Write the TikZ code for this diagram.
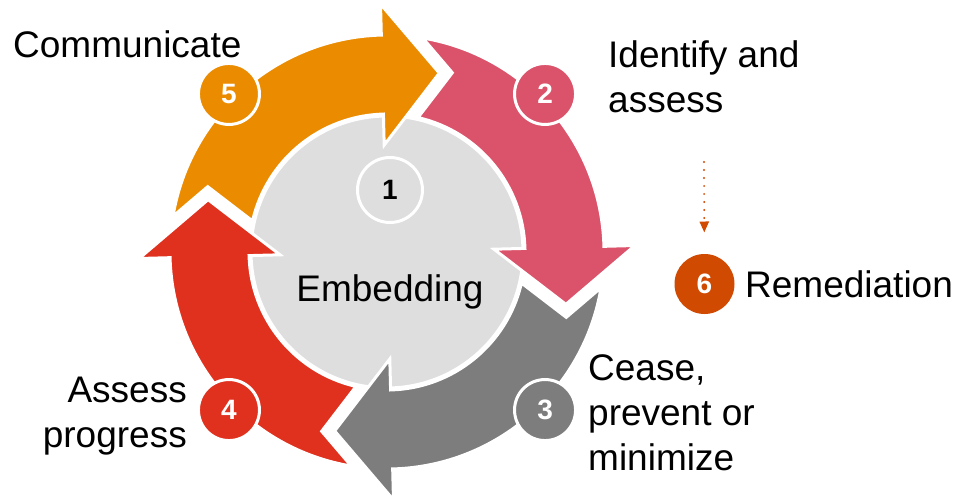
\documentclass[tikz,border=0pt]{standalone}
\usepackage{fontspec}
\setmainfont{Liberation Sans}
\usetikzlibrary{arrows.meta}
\definecolor{cycOrange}{HTML}{EB8C00}
\definecolor{cycPink}{HTML}{DB536A}
\definecolor{cycGrey}{HTML}{7D7D7D}
\definecolor{cycRed}{HTML}{E0301E}
\definecolor{cycRust}{HTML}{D04A02}
\definecolor{coreGrey}{HTML}{DEDEDE}

\begin{document}
\begin{tikzpicture}[x=1pt,y=1pt,
  % one quarter of the cycle: notched tail at the top, head pointing
  % clockwise with its base on the positive x axis
  ringarrow/.pic={
    \filldraw[fill=#1, draw=white, line width=3pt]
      (34.52,133.61) -- (70,177.5) -- (41.27,213.04)
      arc[start angle=79.04, end angle=0, radius=217pt]
      -- (248,0) -- (177.5,-57) -- (107,0) -- (138,0)
      arc[start angle=0, end angle=75.5, radius=138pt] -- cycle;
  },
  badge/.style={circle, draw=white, line width=3pt, minimum size=61pt,
    inner sep=0pt, text=white, font=\bfseries\fontsize{28}{28}\selectfont},
  cyctext/.style={inner sep=0pt, font=\fontsize{37}{45}\selectfont},
  dotflow/.style={draw=cycRust, line width=2.2pt, dash pattern=on 0pt off 8pt,
    line cap=round, -{Triangle[width=9pt,length=11pt]}},
]
\useasboundingbox (-387,-249) rectangle (570,252);

% central disc
\node[circle, fill=coreGrey, draw=white, line width=3pt, minimum size=272pt,
  inner sep=0pt] (core) at (0,0) {};

% the four ring arrows
\pic (aPink)   [rotate=1.5]   {ringarrow=cycPink};
\pic (aOrange) [rotate=91.5]  {ringarrow=cycOrange};
\pic (aRed)    [rotate=181.5] {ringarrow=cycRed};
\pic (aGrey)   [rotate=271.5] {ringarrow=cycGrey};

% step numbers
\node[circle, draw=white, line width=3pt, minimum size=65pt, inner sep=0pt,
  font=\bfseries\fontsize{28}{28}\selectfont] (n1) at (3,62) {1};
\node[badge, fill=cycPink]   (n2) at (45:223.5)  {2};
\node[badge, fill=cycGrey]   (n3) at (-45:223.5) {3};
\node[badge, fill=cycRed]    (n4) at (225:223.5) {4};
\node[badge, fill=cycOrange] (n5) at (135:223.5) {5};
\node[badge, fill=cycRust, draw=none, minimum size=60pt] (n6) at (317.5,-32) {6};

% step names (multi-line nodes sit on the baseline of their last line)
\node[cyctext, anchor=base] (tcore) at (3,-49) {Embedding};
\node[cyctext, anchor=base west] (t5) at (-374,194) {Communicate};
\node[cyctext, align=left, anchor=base west] (t2) at (221,140) {Identify and\\assess};
\node[cyctext, align=left, anchor=base west] (t3) at (201,-218) {Cease,\\prevent or\\minimize};
\node[cyctext, align=right, anchor=base east] (t4) at (-200,-195) {Assess\\progress};
\node[cyctext, anchor=base west] (t6) at (358,-45) {Remediation};

% dotted pointer down to remediation
\coordinate (dtop) at (317,90);
\draw[dotflow, shorten >=20pt] (dtop) -- (n6);
\end{tikzpicture}
\end{document}
